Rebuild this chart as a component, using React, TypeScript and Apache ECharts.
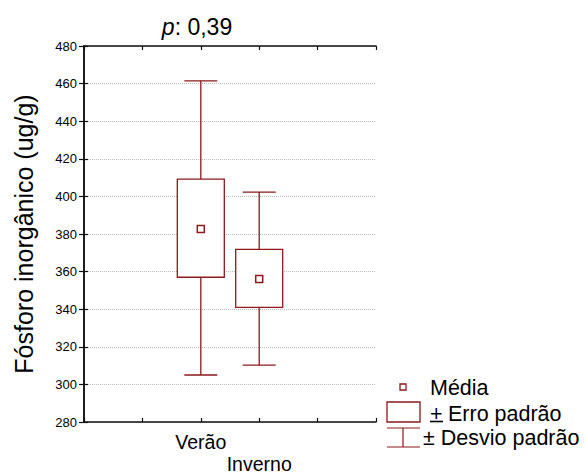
import React, { useEffect, useRef } from "react";
import * as echarts from "echarts";

const categories = ["Verão", "Inverno"];
const means = [382.7, 356.0];
const seLow = [357.0, 341.0];
const seHigh = [409.2, 371.8];
const sdLow = [305.0, 310.2];
const sdHigh = [461.5, 402.3];
const yTicks = { min: 280, max: 480, interval: 20 };
const legendLabels = ["Média", "Erro padrão", "± Desvio padrão"];

const RED = "#8b1a1a";
const FONT = "Liberation Sans, Arial, sans-serif";

export default function App() {
  const ref = useRef<HTMLDivElement>(null);
  useEffect(() => {
    if (!ref.current) return;
    const chart = echarts.init(ref.current, null, { renderer: "svg" });
    const data = categories.map((c, i) => [i + 2, means[i], seLow[i], seHigh[i], sdLow[i], sdHigh[i]]);
    const option: any = {
      animation: false,
      backgroundColor: "#fff",
      textStyle: { fontFamily: FONT },
      title: {
        text: "{i|p}: 0,39",
        left: 192,
        top: 10,
        textAlign: "center",
        textStyle: {
          fontFamily: FONT,
          fontSize: 23,
          fontWeight: "normal",
          color: "#000",
          rich: { i: { fontStyle: "italic", fontSize: 23, fontFamily: FONT, color: "#000" } },
        },
      },
      grid: { left: 84, right: 209, top: 46, bottom: 52, outerBoundsMode: "none", containLabel: false },
      xAxis: [
        {
          type: "value",
          min: 0,
          max: 5,
          interval: 1,
          position: "bottom",
          axisLine: { show: true, lineStyle: { color: "#111", width: 1.5 } },
          axisTick: { show: true, inside: true, length: 4, lineStyle: { color: "#111", width: 1.2 } },
          splitLine: { show: false },
          axisLabel: {
            margin: 9,
            fontSize: 19.5,
            color: "#000",
            fontFamily: FONT,
            lineHeight: 22,
            formatter: (v: number) => {
              const idx = Math.round(v) - 2;
              if (idx === 0) return categories[0];
              if (idx === 1) return "\n" + categories[1];
              return "";
            },
          },
        },
        {
          type: "value",
          min: 0,
          max: 5,
          interval: 1,
          position: "top",
          axisLine: { show: true, lineStyle: { color: "#111", width: 1.5 } },
          axisTick: { show: true, inside: true, length: 4, lineStyle: { color: "#111", width: 1.2 } },
          splitLine: { show: false },
          axisLabel: { show: false },
        },
      ],
      yAxis: [
        {
          type: "value",
          min: yTicks.min,
          max: yTicks.max,
          interval: yTicks.interval,
          position: "left",
          name: "Fósforo inorgânico (ug/g)",
          nameLocation: "middle",
          nameGap: 48,
          nameTextStyle: { fontSize: 25, color: "#000", fontFamily: FONT },
          axisLine: { show: true, lineStyle: { color: "#333", width: 1.8 } },
          axisTick: { show: true, inside: false, length: 5, lineStyle: { color: "#111", width: 1.2 } },
          splitLine: { show: true, lineStyle: { color: "#bbb", type: [1, 1], width: 1 } },
          axisLabel: { margin: 7, fontSize: 13, color: "#000", fontFamily: FONT },
        },
        {
          type: "value",
          min: yTicks.min,
          max: yTicks.max,
          interval: yTicks.interval,
          position: "right",
          axisLine: { show: true, lineStyle: { color: "#111", width: 1.5 } },
          axisTick: { show: true, inside: false, length: 4, lineStyle: { color: "#111", width: 1.2 } },
          splitLine: { show: false },
          axisLabel: { show: false },
        },
      ],
      series: [
        {
          type: "custom",
          xAxisIndex: 0,
          yAxisIndex: 0,
          data,
          renderItem: (params: any, api: any) => {
            const x = api.value(0);
            const cx = api.coord([x, api.value(1)])[0];
            const yMean = api.coord([x, api.value(1)])[1];
            const ySeLo = api.coord([x, api.value(2)])[1];
            const ySeHi = api.coord([x, api.value(3)])[1];
            const ySdLo = api.coord([x, api.value(4)])[1];
            const ySdHi = api.coord([x, api.value(5)])[1];
            const boxW = 47;
            const capW = 33;
            const ls = { stroke: RED, lineWidth: 1.3, fill: null };
            return {
              type: "group",
              children: [
                { type: "line", shape: { x1: cx, y1: ySdHi, x2: cx, y2: ySeHi }, style: ls },
                { type: "line", shape: { x1: cx - capW / 2, y1: ySdHi, x2: cx + capW / 2, y2: ySdHi }, style: ls },
                { type: "line", shape: { x1: cx, y1: ySeLo, x2: cx, y2: ySdLo }, style: ls },
                { type: "line", shape: { x1: cx - capW / 2, y1: ySdLo, x2: cx + capW / 2, y2: ySdLo }, style: ls },
                {
                  type: "rect",
                  shape: { x: cx - boxW / 2, y: ySeHi, width: boxW, height: ySeLo - ySeHi },
                  style: { fill: "#fff", stroke: RED, lineWidth: 1.3 },
                },
                {
                  type: "rect",
                  shape: { x: cx - 3.5, y: yMean - 3.5, width: 7, height: 7 },
                  style: { fill: "#fff", stroke: RED, lineWidth: 1.5 },
                },
              ],
            };
          },
        },
      ],
      graphic: [
        // Média legend
        { type: "rect", shape: { x: 400, y: 384, width: 6, height: 6 }, style: { fill: "#fff", stroke: RED, lineWidth: 1.3 } },
        { type: "text", x: 430, y: 388, style: { text: legendLabels[0], font: `21.5px ${FONT}`, fill: "#000", verticalAlign: "middle" } },
        // Erro padrão legend
        { type: "rect", shape: { x: 387, y: 402, width: 33, height: 20 }, style: { fill: "#fff", stroke: RED, lineWidth: 1.3 } },
        { type: "text", x: 430, y: 414, style: { text: "+", font: `21.5px ${FONT}`, fill: "#000", verticalAlign: "middle" } },
        { type: "line", shape: { x1: 430, y1: 421.5, x2: 443, y2: 421.5 }, style: { stroke: "#000", lineWidth: 1.6 } },
        { type: "text", x: 448, y: 414, style: { text: legendLabels[1], font: `21.5px ${FONT}`, fill: "#000", verticalAlign: "middle" } },
        // Desvio padrão legend
        { type: "line", shape: { x1: 387, y1: 428, x2: 420, y2: 428 }, style: { stroke: RED, lineWidth: 1.2 } },
        { type: "line", shape: { x1: 403, y1: 428, x2: 403, y2: 447 }, style: { stroke: RED, lineWidth: 1.2 } },
        { type: "line", shape: { x1: 387, y1: 447, x2: 420, y2: 447 }, style: { stroke: RED, lineWidth: 1.2 } },
        { type: "text", x: 423, y: 438, style: { text: legendLabels[2], font: `21.5px ${FONT}`, fill: "#000", verticalAlign: "middle" } },
      ],
    };
    chart.setOption(option);
    return () => chart.dispose();
  }, []);
  return <div ref={ref} style={{ width: 585, height: 474, position: "absolute", left: 0, top: 0 }} />;
}
